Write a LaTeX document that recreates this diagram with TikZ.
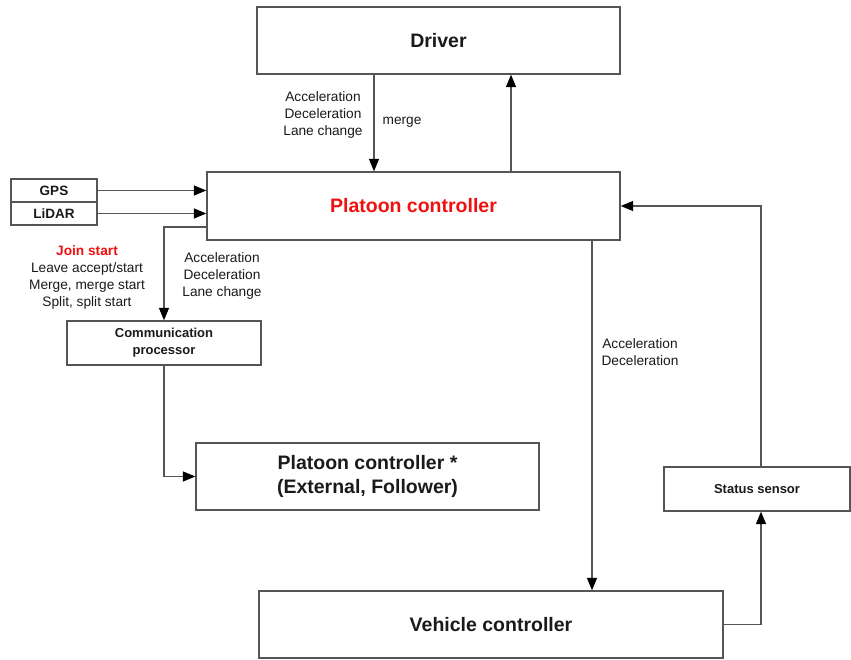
\documentclass[tikz,border=0pt]{standalone}
\usepackage{fontspec}
\setmainfont{Liberation Sans}
\usetikzlibrary{arrows.meta,calc}
\definecolor{linegray}{HTML}{555555}
\definecolor{txt}{HTML}{1A1A1A}
\definecolor{pred}{HTML}{F01010}
\tikzset{
  box/.style={draw=linegray, line width=1.3pt, fill=white, rectangle, inner sep=0pt, align=center, text=txt},
  big/.style={font=\fontsize{19.5}{24}\selectfont\bfseries},
  mid/.style={font=\fontsize{13.5}{17}\selectfont\bfseries},
  lbl/.style={font=\fontsize{13.7}{17.2}\selectfont, align=center, text=txt, inner sep=0pt},
  arr/.style={draw=linegray, line width=1.3pt, -{Triangle[length=12.5pt,width=10pt,color=black]}},
  ln/.style={draw=linegray, line width=1.3pt}
}
\begin{document}
\begin{tikzpicture}[x=1pt,y=-1pt]
\useasboundingbox (0,0) rectangle (851,660);
\fill[white] (0,0) rectangle (851,660);
% boxes
\node[box,big,minimum width=363pt,minimum height=67pt] (driver) at (438.5,40.5) {Driver};
\node[box,big,minimum width=413pt,minimum height=68pt,text=pred] (plat) at (413.5,206) {Platoon controller};
\node[box,mid,minimum width=86pt,minimum height=23pt] (gps) at (54,190.5) {GPS};
\node[box,mid,minimum width=86pt,minimum height=23pt] (lidar) at (54,213.5) {LiDAR};
\node[box,mid,minimum width=194pt,minimum height=44pt,font=\fontsize{13}{17}\selectfont\bfseries] (comm) at (164,343) {Communication\\processor};
\node[box,big,minimum width=343pt,minimum height=67pt] (ext) at (367.5,476.5) {Platoon controller *\\(External, Follower)};
\node[box,mid,minimum width=186pt,minimum height=44pt,font=\fontsize{13}{17}\selectfont\bfseries] (stat) at (757,489) {Status sensor};
\node[box,big,minimum width=464pt,minimum height=67pt] (veh) at (491,624.5) {Vehicle controller};
% helper coordinates
\coordinate (xa) at (374,0);
\coordinate (xb) at (511,0);
\coordinate (xc) at (592,0);
\coordinate (xs) at (761,0);
\coordinate (ya) at (0,227);
% connectors
\draw[arr] (driver.south -| xa) -- (plat.north -| xa);
\draw[arr] (plat.north -| xb) -- (driver.south -| xb);
\draw[arr] (gps.east) -- (gps.east -| plat.west);
\draw[arr] (lidar.east) -- (lidar.east -| plat.west);
\draw[arr] (plat.west |- ya) -| (comm.north);
\draw[arr] (comm.south) |- (ext.west);
\draw[arr] (plat.south -| xc) -- (veh.north -| xc);
\draw[arr] (veh.east) -| (stat.south -| xs);
\draw[arr] (stat.north -| xs) |- (plat.east);
% labels
\node[lbl] (l1) at (323,115) {Acceleration\\Deceleration\\Lane change};
\node[lbl] (l2) at (402,122) {merge};
\node[lbl] (l3) at (87,277.5) {\textcolor{pred}{\bfseries Join start}\\Leave accept/start\\Merge, merge start\\Split, split start};
\node[lbl] (l4) at (222,276) {Acceleration\\Deceleration\\Lane change};
\node[lbl] (l5) at (640,352) {Acceleration\\Deceleration};
\end{tikzpicture}
\end{document}
